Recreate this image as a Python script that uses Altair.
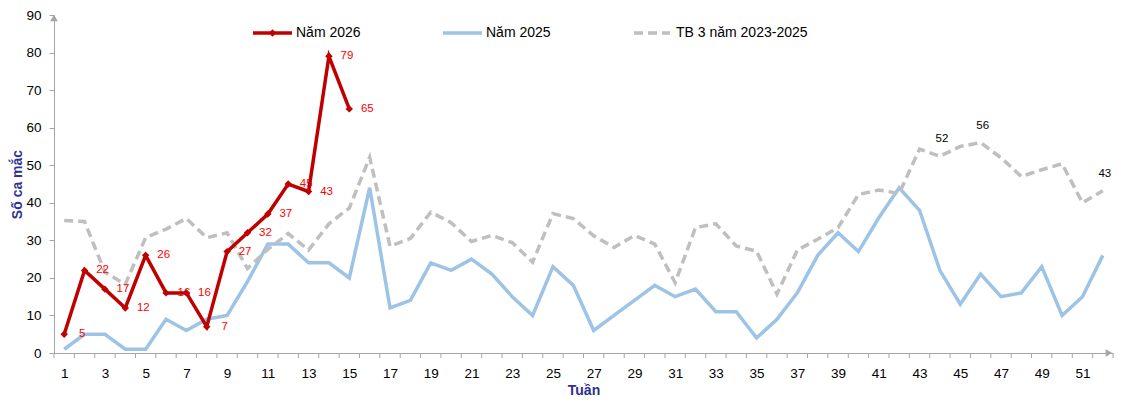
import altair as alt
import pandas as pd

# ---------------- data ----------------
weeks = list(range(1, 53))
weeks_2026 = list(range(1, 16))
cases_2026 = [5, 22, 17, 12, 26, 16, 16, 7, 27, 32, 37, 45, 43, 79, 65]
cases_2025 = [1, 5, 5, 1, 1, 9, 6, 9, 10, 19,
              29, 29, 24, 24, 20, 44, 12, 14, 24, 22,
              25, 21, 15, 10, 23, 18, 6, 10, 14, 18,
              15, 17, 11, 11, 4, 9, 16, 26, 32, 27,
              36, 44, 38, 22, 13, 21, 15, 16, 23, 10, 15, 26]
avg_2023_2025 = [35.3, 35, 21.5, 18.3, 30.7, 33, 35.8, 30.7, 32, 22.5,
                 27.6, 31.8, 27.4, 34.4, 38.6, 52.1, 28.4, 30.5, 37.5, 34.7,
                 29.7, 31.3, 29.4, 24.2, 37.1, 35.8, 31.2, 28.1, 31.3, 29,
                 18.7, 33.4, 34.4, 28.5, 27.1, 15.7, 27.4, 30.3, 33.4, 42.2,
                 43.4, 42.5, 54.3, 52.4, 55, 56, 52, 47, 48.8, 50.4, 40, 43.2]
avg_label_weeks = [44, 46, 52]
x_label_weeks = [w for w in weeks if w % 2 == 1]
y_tick_values = list(range(0, 91, 10))
series_names = ["Năm 2026", "Năm 2025", "TB 3 năm 2023-2025"]

# ---------------- styling ----------------
FONT = "Liberation Sans"
W, H = 1059, 338
C26, C25, CTB = "#c00000", "#9dc3e6", "#bfbfbf"
AXIS_C = "#a6a6a6"
TITLE_C = "#2e3192"
X_MIN, X_MAX = weeks[0] - 0.5, weeks[-1] + 0.5
Y_MIN, Y_MAX = 0, 90

df26 = pd.DataFrame({"week": weeks_2026, "cases": cases_2026})
df26["label"] = df26["cases"].astype(str)
df25 = pd.DataFrame({"week": weeks, "cases": cases_2025})
dftb = pd.DataFrame({"week": weeks, "cases": avg_2023_2025})
dftb_lab = dftb[dftb["week"].isin(avg_label_weeks)].copy()
dftb_lab["label"] = dftb_lab["cases"].round().astype(int).astype(str)
dfticks = pd.DataFrame({"week": [w - 0.5 for w in weeks] + [weeks[-1] + 0.5]})
df_yarrow = pd.DataFrame({"week": [X_MIN], "cases": [Y_MAX]})
df_xarrow = pd.DataFrame({"week": [X_MAX], "cases": [Y_MIN]})
one = pd.DataFrame({"k": [0]})

x_scale = alt.Scale(domain=[X_MIN, X_MAX], nice=False, zero=False)
y_scale = alt.Scale(domain=[Y_MIN, Y_MAX], nice=False)

x_axis = alt.Axis(values=x_label_weeks, ticks=False, grid=False,
                  domainColor=AXIS_C, domainWidth=1,
                  labelFont=FONT, labelFontSize=13.5, labelColor="#000000",
                  labelPadding=13, labelFlush=False,
                  title="Tuần", titleFont=FONT, titleFontSize=14,
                  titleFontWeight="bold", titleColor=TITLE_C,
                  titleY=41, titleBaseline="alphabetic")
y_axis = alt.Axis(values=y_tick_values, grid=False, tickSize=5,
                  tickColor=AXIS_C, domainColor=AXIS_C, domainWidth=1,
                  labelFont=FONT, labelFontSize=13.5, labelColor="#000000",
                  labelPadding=8,
                  title="Số ca mắc", titleFont=FONT, titleFontSize=14,
                  titleFontWeight="bold", titleColor=TITLE_C,
                  titleX=-37, titleY=H / 2, titleAngle=270,
                  titleAlign="center", titleBaseline="middle")

X = lambda f="week": alt.X(f + ":Q", scale=x_scale, axis=x_axis)
Y = lambda f="cases": alt.Y(f + ":Q", scale=y_scale, axis=y_axis)

ticks = alt.Chart(dfticks).mark_rule(color=AXIS_C, strokeWidth=1).encode(
    x=X(), y=alt.value(H), y2=alt.value(H + 5))

line25 = alt.Chart(df25).mark_line(color=C25, strokeWidth=3.5).encode(x=X(), y=Y())
linetb = alt.Chart(dftb).mark_line(color=CTB, strokeWidth=3.5, strokeDash=[9, 5]).encode(x=X(), y=Y())
labtb = alt.Chart(dftb_lab).mark_text(font=FONT, fontSize=11.5, color="#000000",
                                      dx=2, dy=-17).encode(x=X(), y=Y(), text="label:N")
lab26 = alt.Chart(df26).mark_text(font=FONT, fontSize=11.5, color="#ff0000",
                                  dx=18, align="center", baseline="middle").encode(
    x=X(), y=Y(), text="label:N")
line26 = alt.Chart(df26).mark_line(color=C26, strokeWidth=3.5).encode(x=X(), y=Y())
pts26 = alt.Chart(df26).mark_point(shape="diamond", filled=True, size=55,
                                   color=C26, opacity=1).encode(x=X(), y=Y())

yarrow = alt.Chart(df_yarrow).mark_point(shape="triangle-up", filled=True, size=60,
                                         color=AXIS_C, opacity=1, yOffset=3).encode(x=X(), y=Y())
xarrow = alt.Chart(df_xarrow).mark_point(shape="triangle-right", filled=True, size=60,
                                         color=AXIS_C, opacity=1, xOffset=-4).encode(x=X(), y=Y())

# ---------------- legend ----------------
LY = 18
leg = []
leg.append(alt.Chart(one).mark_rule(color=C26, strokeWidth=3.5).encode(
    x=alt.value(199), x2=alt.value(238), y=alt.value(LY)))
leg.append(alt.Chart(one).mark_point(shape="diamond", filled=True, size=55, color=C26, opacity=1).encode(
    x=alt.value(218.5), y=alt.value(LY)))
leg.append(alt.Chart(one).mark_rule(color=C25, strokeWidth=3.5).encode(
    x=alt.value(389), x2=alt.value(428), y=alt.value(LY)))
leg.append(alt.Chart(one).mark_rule(color=CTB, strokeWidth=3.5, strokeDash=[9, 5]).encode(
    x=alt.value(580), x2=alt.value(616), y=alt.value(LY)))
for name, px in zip(series_names, [242, 432, 622]):
    leg.append(alt.Chart(one).mark_text(text=name, font=FONT, fontSize=14, color="#000000",
                                        align="left", baseline="middle").encode(
        x=alt.value(px), y=alt.value(LY)))

chart = alt.layer(
    ticks, line25, linetb, labtb, lab26, line26, pts26, yarrow, xarrow, *leg
).properties(
    width=W, height=H,
    padding={"left": 46, "top": 7, "right": 8, "bottom": 43},
    autosize=alt.AutoSizeParams(type="none"),
    background="white",
).configure_view(stroke=None)

chart.save("out.html", embed_options={"renderer": "svg", "actions": False})
